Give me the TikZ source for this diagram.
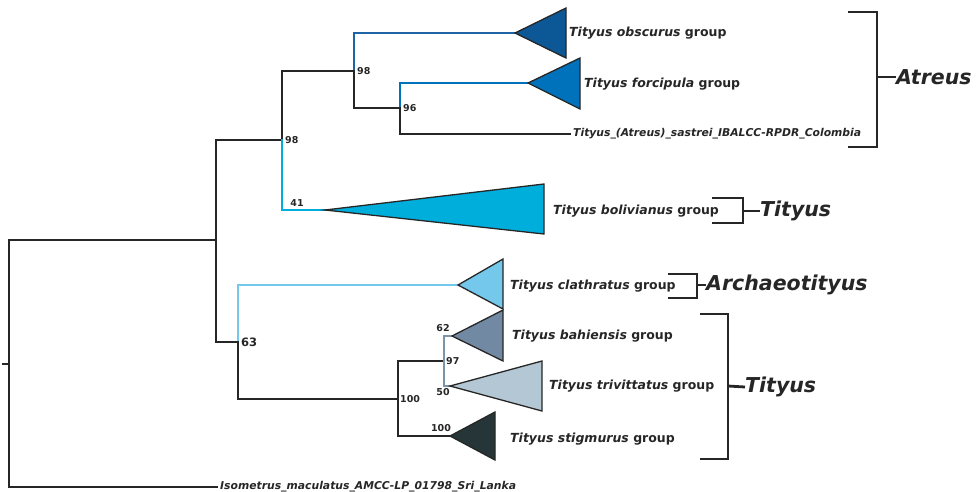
\documentclass[tikz,border=0pt]{standalone}
\usepackage{fontspec}
\setmainfont{DejaVu Sans}
\usetikzlibrary{positioning}

\definecolor{treeblack}{HTML}{262626}
\definecolor{obsc}{HTML}{0C5896}
\definecolor{obscline}{HTML}{1D63A6}
\definecolor{forc}{HTML}{0072BC}
\definecolor{boli}{HTML}{00AEDC}
\definecolor{clat}{HTML}{74C8EC}
\definecolor{bahi}{HTML}{7189A3}
\definecolor{bahiline}{HTML}{7D93AA}
\definecolor{triv}{HTML}{B3C7D4}
\definecolor{stig}{HTML}{263538}

\tikzset{
  branch/.style={line width=2.3pt, draw=treeblack, line cap=rect},
  clade/.style={draw=treeblack, line width=1.3pt, line join=miter},
  grp/.style={anchor=west, inner sep=0pt, text=treeblack, font=\fontsize{12.5}{14}\selectfont\bfseries},
  taxon/.style={anchor=west, inner sep=0pt, text=treeblack, font=\fontsize{10.8}{12}\selectfont\bfseries\itshape},
  supp/.style={inner sep=0pt, text=treeblack, font=\fontsize{9.5}{10}\selectfont\bfseries},
  genus/.style={anchor=west, inner sep=0pt, text=treeblack, font=\fontsize{20.5}{22}\selectfont\bfseries\itshape},
  brk/.style={line width=2.8pt, draw=treeblack}
}

\begin{document}
\begin{tikzpicture}[x=1pt, y=-1pt]
    \useasboundingbox (0,0) rectangle (979,491);

    %% The internal nodes of the tree and the tips. Every branch goes from a parent to its child with |- so that the elbow is drawn in the colour of the child.
    \coordinate (stub) at (3,364);
    \coordinate (root) at (9,364);
    \coordinate (nA) at (216,240);
    \coordinate (nB) at (282,140);
    \coordinate (nC) at (354,71);
    \coordinate (nD) at (400,108);
    \coordinate (nE) at (238,342);
    \coordinate (nF) at (398,399);
    \coordinate (nG) at (444,361);
    \coordinate (tObsc) at (515,33);
    \coordinate (tForc) at (528,83);
    \coordinate (tSast) at (570,134);
    \coordinate (tBoli) at (325,210);
    \coordinate (tClat) at (458,285);
    \coordinate (tBahi) at (452,336);
    \coordinate (tTriv) at (450,386);
    \coordinate (tStig) at (450,436);
    \coordinate (tIsom) at (217,487);

    \begin{scope}
        \draw[branch] (stub) -- (root);
        \draw[branch] (root) |- (nA);
        \draw[branch] (root) |- (tIsom);
        \draw[branch] (nA) |- (nB);
        \draw[branch] (nA) |- (nE);
        \draw[branch] (nB) |- (nC);
        \draw[branch, draw=boli] (nB) |- (tBoli);
        \draw[branch, draw=obscline] (nC) |- (tObsc);
        \draw[branch] (nC) |- (nD);
        \draw[branch, draw=forc] (nD) |- (tForc);
        \draw[branch] (nD) |- (tSast);
        \draw[branch, draw=clat] (nE) |- (tClat);
        \draw[branch] (nE) |- (nF);
        \draw[branch] (nF) |- (nG);
        \draw[branch] (nF) |- (tStig);
        \draw[branch, draw=bahiline] (nG) |- (tBahi);
        \draw[branch, draw=bahiline] (nG) |- (tTriv);
    \end{scope}

    %% Support values
    \node[supp, anchor=west] (sC) at (357,71) {98};
    \node[supp, anchor=west] (sD) at (403,108) {96};
    \node[supp, anchor=west] (sB) at (285,140) {98};
    \node[supp] (sBoli) at (297,203) {41};
    \node[supp, anchor=west, font=\fontsize{11.5}{12}\selectfont\bfseries] (sE) at (241,342) {63};
    \node[supp, anchor=west] (sF) at (400,399) {100};
    \node[supp, anchor=west] (sG) at (446,361) {97};
    \node[supp] (sBahi) at (443,328) {62};
    \node[supp] (sTriv) at (443,392) {50};
    \node[supp] (sStig) at (441,428) {100};

    %% Collapsed clades
    \draw[clade, fill=obsc] (tObsc) -- ++(51,-25) -- ++(0,50) -- cycle;
    \draw[clade, fill=forc] (tForc) -- ++(52,-25) -- ++(0,51) -- cycle;
    \draw[clade, fill=boli] (tBoli) -- ++(219,-26) -- ++(0,50) -- cycle;
    \draw[clade, fill=clat] (tClat) -- ++(45,-26) -- ++(0,50) -- cycle;
    \draw[clade, fill=bahi] (tBahi) -- ++(51,-26) -- ++(0,51) -- cycle;
    \draw[clade, fill=triv] (tTriv) -- ++(92,-25) -- ++(0,50) -- cycle;
    \draw[clade, fill=stig] (tStig) -- ++(45,-24) -- ++(0,48) -- cycle;

    \node[grp] (lObsc) at (569,33) {\textit{Tityus obscurus} group};
    \node[grp] (lForc) at (584,84) {\textit{Tityus forcipula} group};
    \node[taxon] (lSast) at (573,134) {Tityus\_(Atreus)\_sastrei\_IBALCC-RPDR\_Colombia};
    \node[grp] (lBoli) at (553,211) {\textit{Tityus bolivianus} group};
    \node[grp] (lClat) at (510,286) {\textit{Tityus clathratus} group};
    \node[grp] (lBahi) at (512,336) {\textit{Tityus bahiensis} group};
    \node[grp] (lTriv) at (549,386) {\textit{Tityus trivittatus} group};
    \node[grp] (lStig) at (510,439) {\textit{Tityus stigmurus} group};
    \node[taxon] (lIsom) at (220,487) {Isometrus\_maculatus\_AMCC-LP\_01798\_Sri\_Lanka};

    %% Genus brackets
    \node[genus] (gAtreus) at (896,77) {Atreus};
    \node[genus] (gTityusA) at (760,211) {Tityus};
    \node[genus] (gArch) at (706,285) {Archaeotityus};
    \node[genus] (gTityusB) at (745,387) {Tityus};

    \draw[brk] (848,12) -| (877,147) -- (848,147);
    \draw[brk] (877,77) -- (gAtreus.west);
    \draw[brk] (712,198) -| (743,223) -- (712,223);
    \draw[brk] (743,211) -- (gTityusA.west);
    \draw[brk] (668,274) -| (697,298) -- (668,298);
    \draw[brk] (697,285) -- (gArch.west);
    \draw[brk] (700,314) -| (728,459) -- (700,459);
    \draw[brk] (728,386) -- (gTityusB.west);
\end{tikzpicture}
\end{document}
